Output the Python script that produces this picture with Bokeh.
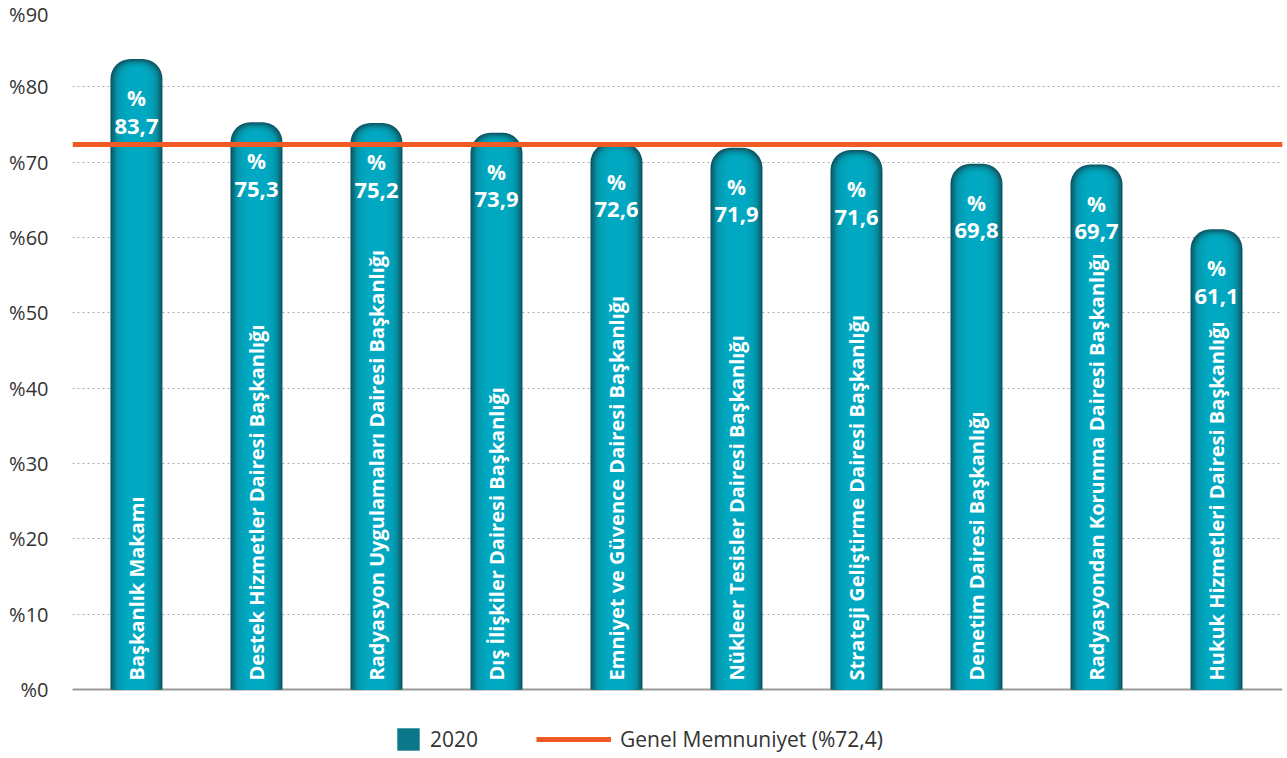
from bokeh.plotting import figure
from bokeh.models import ColumnDataSource, Legend, LegendItem, FixedTicker, Range1d
from bokeh.core.properties import value
from bokeh.embed import file_html
from bokeh.resources import INLINE

categories = [
    "Başkanlık Makamı",
    "Destek Hizmetler Dairesi Başkanlığı",
    "Radyasyon Uygulamaları Dairesi Başkanlığı",
    "Dış İlişkiler Dairesi Başkanlığı",
    "Emniyet ve Güvence Dairesi Başkanlığı",
    "Nükleer Tesisler Dairesi Başkanlığı",
    "Strateji Geliştirme Dairesi Başkanlığı",
    "Denetim Dairesi Başkanlığı",
    "Radyasyondan Korunma Dairesi Başkanlığı",
    "Hukuk Hizmetleri Dairesi Başkanlığı",
]
values_2020 = [83.7, 75.3, 75.2, 73.9, 72.6, 71.9, 71.6, 69.8, 69.7, 61.1]
general_satisfaction = 72.4
series_label = "2020"
general_label = "Genel Memnuniyet (%72,4)"
y_ticks = [0, 10, 20, 30, 40, 50, 60, 70, 80, 90]
y_tick_labels = ["%0", "%10", "%20", "%30", "%40", "%50", "%60", "%70", "%80", "%90"]

xs = list(range(len(categories)))
src = ColumnDataSource(dict(
    x=xs,
    top=values_2020,
    cat=categories,
    pct=["%"] * len(values_2020),
    val=[f"{v:.1f}".replace(".", ",") for v in values_2020],
    y_pct=[v - 5.2 for v in values_2020],
    y_val=[v - 8.9 for v in values_2020],
    y_cat=[1.2] * len(values_2020),
))

# frame extends below zero so the legend row lies inside the frame
p = figure(width=1287, height=758, output_backend="svg", toolbar_location=None,
           x_range=Range1d(-0.533, 9.55), y_range=Range1d(-9.16, 90),
           min_border_left=72, min_border_right=5, min_border_top=11, min_border_bottom=0)
p.outline_line_color = None
p.background_fill_color = "white"
p.xaxis.visible = False

p.xgrid.grid_line_color = None
p.ygrid.grid_line_color = "#aaaaaa"
p.ygrid.grid_line_dash = "2 3"
p.ygrid.grid_line_width = 1

# baseline at zero
p.hspan(y=[0], line_color="#9a9a9a", line_width=2)

# bar layers: simulate horizontal gradient (dark edges, bright center)
px = 120.0
layer_w = [52, 49, 46, 43, 40, 36, 30, 22]
layer_c = ["#0b5866", "#0b6878", "#0a7889", "#078899", "#0494a8", "#029db3", "#01a3bb", "#00a8c2"]
layer_r = [20, 19, 18, 17, 16, 15, 13, 10]
layer_drop = [0.0, 0.15, 0.3, 0.45, 0.6, 0.75, 0.9, 1.05]
renderers = []
for w, c, r, d in zip(layer_w, layer_c, layer_r, layer_drop):
    s = ColumnDataSource(dict(x=xs, top=[v - d for v in values_2020]))
    rr = p.vbar(x="x", top="top", bottom=0, width=w / px, source=s,
                fill_color=c, line_color=None, border_radius=(r, r, 0, 0))
    renderers.append(rr)

# general satisfaction line
hs = p.hspan(y=[general_satisfaction], line_color="#f05a24", line_width=5)

# texts
p.text(x="x", y="y_cat", text="cat", source=src, angle=1.5708,
       text_align="left", text_baseline="middle", text_color="white",
       text_font=value("Open Sans"), text_font_style="bold", text_font_size="20px")
p.text(x="x", y="y_pct", text="pct", source=src,
       text_align="center", text_baseline="middle", text_color="white",
       text_font=value("Open Sans"), text_font_style="bold", text_font_size="21px")
p.text(x="x", y="y_val", text="val", source=src,
       text_align="center", text_baseline="middle", text_color="white",
       text_font=value("Open Sans"), text_font_style="bold", text_font_size="22px")

p.yaxis.ticker = FixedTicker(ticks=y_ticks)
p.yaxis.major_label_overrides = {t: l for t, l in zip(y_ticks, y_tick_labels)}
p.yaxis.axis_line_color = None
p.yaxis.major_tick_line_color = None
p.yaxis.minor_tick_line_color = None
p.yaxis.major_label_text_font = "Open Sans"
p.yaxis.major_label_text_font_size = "20px"
p.yaxis.major_label_text_color = "#333333"
p.yaxis.major_label_standoff = 18

# legends
leg1 = Legend(items=[LegendItem(label=series_label, renderers=[renderers[2]])],
              location=(322, 5), orientation="horizontal",
              glyph_width=28, glyph_height=28, label_standoff=8,
              padding=0, margin=0, border_line_color=None, background_fill_alpha=0,
              label_text_font="Open Sans", label_text_font_size="21px", label_text_color="#333333")
leg2 = Legend(items=[LegendItem(label=general_label, renderers=[hs])],
              location=(464, 5), orientation="horizontal",
              glyph_width=75, glyph_height=28, label_standoff=9,
              padding=0, margin=0, border_line_color=None, background_fill_alpha=0,
              label_text_font="Open Sans", label_text_font_size="21px", label_text_color="#333333")
p.add_layout(leg1, "center")
p.add_layout(leg2, "center")

open("out.html", "w").write(file_html(p, INLINE))
